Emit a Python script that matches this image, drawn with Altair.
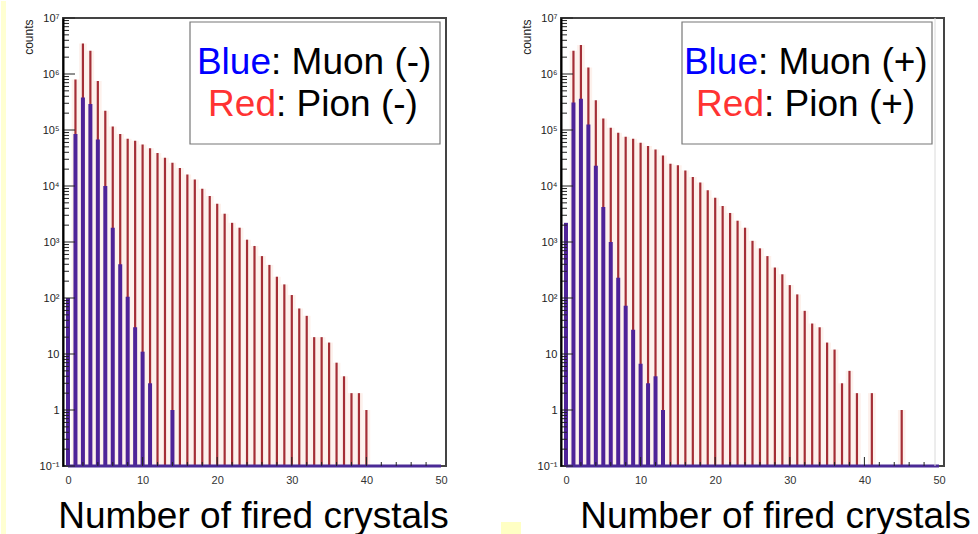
import altair as alt
import pandas as pd

# ---------------- data ----------------
pion_minus = [0, 8.0e5, 3.5e6, 2.6e6, 7.5e5, 2.2e5, 1.15e5, 8.5e4, 7.0e4, 6.4e4,
              5.5e4, 4.7e4, 3.9e4, 3.2e4, 2.6e4, 2.1e4, 1.6e4, 1.3e4, 8.9e3, 6.6e3,
              4.8e3, 3.2e3, 2.2e3, 1.8e3, 1.1e3, 850, 560, 390, 240, 175,
              113, 65, 48, 20, 20, 16, 7, 4, 2, 2, 1]
muon_minus = [100, 8.5e4, 3.8e5, 2.9e5, 6.8e4, 1.0e4, 1.8e3, 400, 105, 30, 11, 3, 0, 0, 1]

pion_plus = [0, 2.6e6, 3.3e6, 1.3e6, 3.4e5, 1.6e5, 1.1e5, 8.9e4, 7.6e4, 7.0e4,
             5.9e4, 5.2e4, 4.5e4, 3.5e4, 2.5e4, 2.35e4, 1.9e4, 1.45e4, 1.15e4, 8.4e3,
             6.2e3, 4.4e3, 3.3e3, 2.4e3, 1.8e3, 1.05e3, 770, 560, 350, 265,
             170, 116, 59, 35, 30, 16, 12, 3, 5, 2, 0, 2, 0, 0, 0, 1]
muon_plus = [2.2e3, 3.1e5, 3.6e5, 1.25e5, 2.3e4, 4.2e3, 1.0e3, 230, 73, 27, 6.7, 3, 4, 1]

y_major = [0.1, 1, 10, 100, 1e3, 1e4, 1e5, 1e6, 1e7]
y_minor = [m * d for d in y_major[:-1] for m in range(2, 10)]
x_labels = [0, 10, 20, 30, 40, 50]
x_major_ticks = [10, 20, 30, 40]
x_minor_ticks = [2, 4, 6, 8, 12, 14, 16, 18, 22, 24, 26, 28, 32, 34, 36, 38, 42, 44, 46, 48]

W, H = 383, 448
FONT = "Liberation Sans"
RED_LINE = "#A42E36"
BLUE_BAR = "#4E2398"
TINT = "#FDF1EC"

xs = alt.Scale(domain=[0, 50], nice=False, zero=False)
ys = alt.Scale(type="log", domain=[0.1, 1e7], nice=False)

label_expr = ("datum.value == 0.1 ? '10\u207b\u00b9' : datum.value == 1 ? '1' : "
              "datum.value == 10 ? '10' : '10' + ['', '', '\u00b2', '\u00b3', '\u2074', "
              "'\u2075', '\u2076', '\u2077'][round(log(datum.value) / LN10)]")


def hist_df(vals):
    d = pd.DataFrame({"k": list(range(len(vals))), "n": vals})
    d = d[d["n"] > 0].copy()
    d["base"] = 0.1
    return d


def one():
    return pd.DataFrame({"a": [0]})


def panel(pion, muon, sign, title_x, box_x, split1, split2, left_panel):
    dp = hist_df(pion)
    dm = hist_df(muon)

    x_axis = alt.Axis(values=x_labels, ticks=False, domain=False, grid=False,
                      labelFont=FONT, labelFontSize=11, labelColor="#333",
                      labelPadding=8, title="Number of fired crystals",
                      titleFont=FONT, titleFontSize=37, titleFontWeight="normal",
                      titleColor="black", titleX=title_x, titleY=61,
                      titleAlign="center", titleBaseline="alphabetic")
    y_axis = alt.Axis(values=y_major, labelExpr=label_expr, ticks=False,
                      domainColor="black", domainWidth=2, grid=False, zindex=1,
                      labelFont=FONT, labelFontSize=11, labelColor="#222",
                      labelPadding=4, title="counts", titleFont=FONT,
                      titleFontSize=12, titleFontWeight="normal", titleColor="#222",
                      titleAngle=270, titleX=-35, titleY=1, titleAlign="right",
                      titleBaseline="middle")

    X = lambda f: alt.X(f, scale=xs, axis=x_axis)
    Y = lambda f: alt.Y(f, scale=ys, axis=y_axis)

    tint = alt.Chart(dp).mark_bar(size=7.6, color=TINT, clip=True).encode(
        x=X("k:Q"), y=Y("n:Q"), y2="base:Q")
    red = alt.Chart(dp).mark_bar(size=2.2, color=RED_LINE, clip=True).encode(
        x=X("k:Q"), y=Y("n:Q"), y2="base:Q")
    blue = alt.Chart(dm).mark_bar(size=4, color=BLUE_BAR, clip=True).encode(
        x=X("k:Q"), y=Y("n:Q"), y2="base:Q")
    baseline = alt.Chart(pd.DataFrame({"x": [0], "x2": [50], "y": [0.1]})).mark_rule(
        color="#4A2A96", strokeWidth=3).encode(
        x=X("x:Q"), x2="x2:Q", y=Y("y:Q"))

    ymaj = alt.Chart(pd.DataFrame({"v": y_major})).mark_rule(color="#222", strokeWidth=1).encode(
        y=Y("v:Q"), x=alt.value(0), x2=alt.value(12))
    ymin = alt.Chart(pd.DataFrame({"v": y_minor})).mark_rule(color="#222", strokeWidth=1).encode(
        y=Y("v:Q"), x=alt.value(0), x2=alt.value(6))
    xmaj = alt.Chart(pd.DataFrame({"v": x_major_ticks})).mark_rule(color="#222", strokeWidth=1).encode(
        x=X("v:Q"), y=alt.value(H), y2=alt.value(H - 9))
    xmin = alt.Chart(pd.DataFrame({"v": x_minor_ticks})).mark_rule(color="#222", strokeWidth=1).encode(
        x=X("v:Q"), y=alt.value(H), y2=alt.value(H - 4))

    box = alt.Chart(one()).mark_rect(fill="white", stroke="#777", strokeWidth=1.2).encode(
        x=alt.value(box_x), x2=alt.value(box_x + 250), y=alt.value(4), y2=alt.value(126))

    def txt(t, color, align, x, y):
        return alt.Chart(one()).mark_text(text=t, color=color, align=align,
                                          baseline="alphabetic", font=FONT,
                                          fontSize=37).encode(
            x=alt.value(x), y=alt.value(y))

    layers = [tint, red, blue, baseline, ymaj, ymin, xmaj, xmin, box,
              txt("Blue", "#0000FF", "right", split1, 56),
              txt(": Muon (%s)" % sign, "black", "left", split1, 56),
              txt("Red", "#FF3333", "right", split2, 98),
              txt(": Pion (%s)" % sign, "black", "left", split2, 98)]

    if left_panel:
        strip = alt.Chart(one()).mark_rect(fill="#FFFFD2").encode(
            x=alt.value(-62), x2=alt.value(-57), y=alt.value(-17), y2=alt.value(H + 69))
        square = alt.Chart(one()).mark_rect(fill="#FFFFC4").encode(
            x=alt.value(438), x2=alt.value(458), y=alt.value(H + 56), y2=alt.value(H + 69))
        layers += [strip, square]
    else:
        ghost = alt.Chart(one()).mark_rule(color="#DADADA", strokeWidth=1).encode(
            x=alt.value(374), y=alt.value(0), y2=alt.value(H))
        layers += [ghost]

    return alt.layer(*layers).properties(width=W, height=H)


left = panel(pion_minus, muon_minus, "-", 190, 127, 208, 213, True)
right = panel(pion_plus, muon_plus, "+", 214, 121, 197, 203, False)

chart = alt.hconcat(left, right, spacing=115, bounds="flush").properties(
    padding={"left": 0, "top": 0, "right": 0, "bottom": 0},
    background="white",
).configure_view(stroke="#444", strokeWidth=2, fill="white")

chart.save("out.html", embed_options={"renderer": "svg", "actions": False})
